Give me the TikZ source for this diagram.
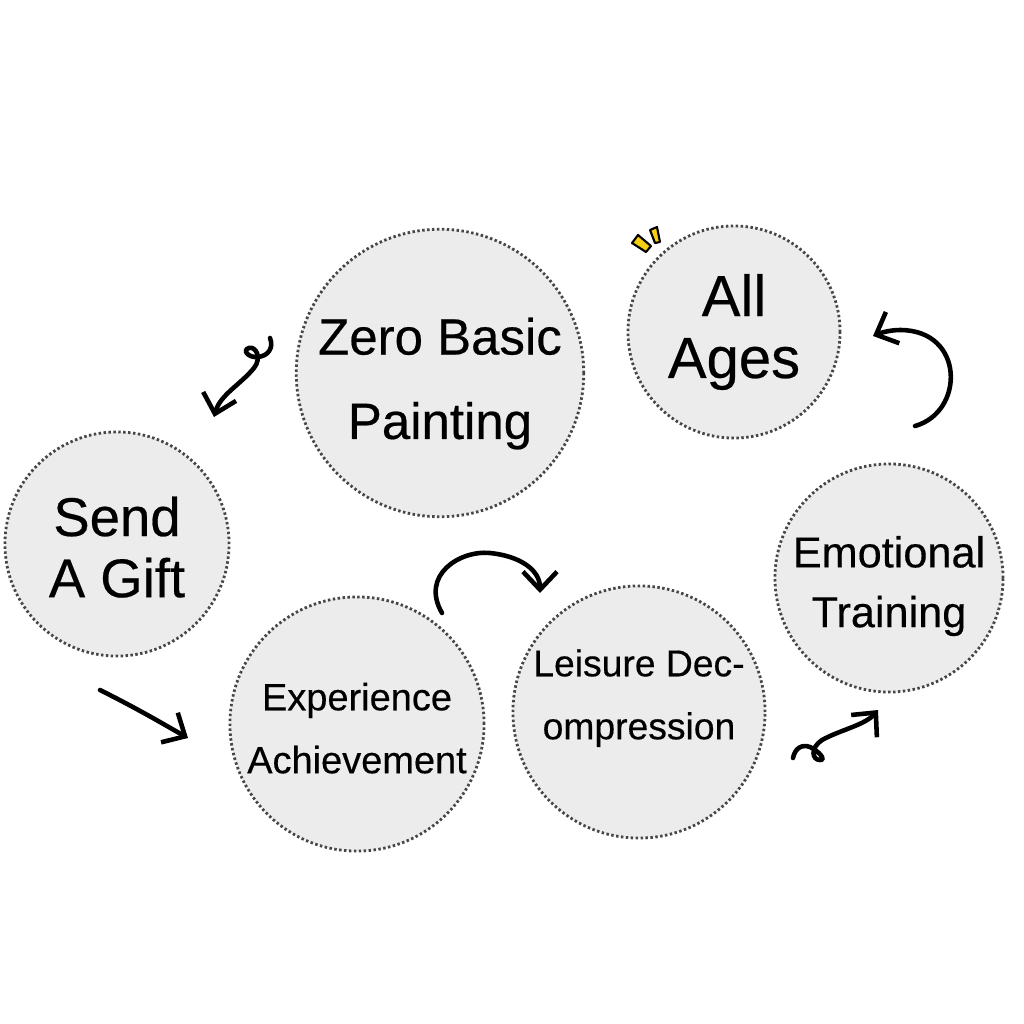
\documentclass[tikz,border=0pt]{standalone}
\usepackage{fontspec}
\setmainfont{Liberation Sans}
\newfontfamily\ballfont{Liberation Sans}[FakeBold=0.4]
\usetikzlibrary{arrows.meta}
\definecolor{ballfill}{RGB}{236,236,236}
\definecolor{balledge}{RGB}{70,70,70}
\definecolor{sparkyellow}{RGB}{246,206,18}

\begin{document}
\begin{tikzpicture}[x=0.01cm,y=-0.01cm,
  ball/.style={circle, fill=ballfill, draw=balledge, line width=0.8pt, dash pattern=on 0.7pt off 0.7pt, align=center, inner sep=0pt},
  scribble/.style={line width=1.3pt, line cap=round, -{Straight Barb[length=1.8mm,width=3.4mm]}},
  spark/.style={fill=sparkyellow, draw=black, line width=0.6pt, line join=round}]

\useasboundingbox (0,0) rectangle (1024,1024);

\node[ball, minimum size=2.86cm, font=\ballfont\fontsize{14.5}{24}\selectfont] (zero) at (440,373) {\rule{0pt}{16.5pt}Zero Basic\\Painting};
\node[ball, minimum size=2.12cm, font=\ballfont\fontsize{16.5}{17.6}\selectfont] (ages) at (734,332) {All\\Ages};
\node[ball, minimum size=2.24cm, font=\ballfont\fontsize{15.5}{17.4}\selectfont] (gift) at (117,544) {\rule{0pt}{13pt}Send\\A Gift};
\node[ball, minimum size=2.54cm, font=\ballfont\fontsize{10.8}{17.9}\selectfont] (exper) at (357,724) {\rule{0pt}{10.2pt}Experience\\Achievement};
\node[ball, minimum size=2.52cm, font=\ballfont\fontsize{10.6}{17.9}\selectfont] (leisure) at (639,712) {Leisure Dec-\\ompression\\[-7.8pt]};
\node[ball, minimum size=2.28cm, font=\ballfont\fontsize{12.3}{17}\selectfont] (emotion) at (889,578) {\rule{0pt}{13.5pt}Emotional\\Training};

% little sparks over All Ages
\filldraw[spark] (632,243) -- (638,235) -- (651,246) -- (646,252) -- cycle;
\filldraw[spark] (650,230) -- (657,227) -- (660,242) -- (655,243) -- cycle;

% hand drawn arrows
\draw[scribble] (270,338) .. controls (274,348) and (268,356) .. (258,357)
  .. controls (248,358) and (242,350) .. (249,348)
  .. controls (256,346) and (262,358) .. (254,368)
  .. controls (240,385) and (220,395) .. (214,417);
\draw[scribble] (915,426) .. controls (965,412) and (965,330) .. (900,330)
  .. controls (890,330) and (880,333) .. (873,336);
\draw[scribble] (100,690) .. controls (140,710) and (165,725) .. (188,738);
\draw[scribble] (442,613) .. controls (420,575) and (460,550) .. (490,553)
  .. controls (520,556) and (540,570) .. (540,593);
\draw[scribble] (793,758) .. controls (795,748) and (802,744) .. (810,747)
  .. controls (820,752) and (826,760) .. (820,760)
  .. controls (812,760) and (810,748) .. (822,740)
  .. controls (840,730) and (865,725) .. (878,710);
\end{tikzpicture}
\end{document}
